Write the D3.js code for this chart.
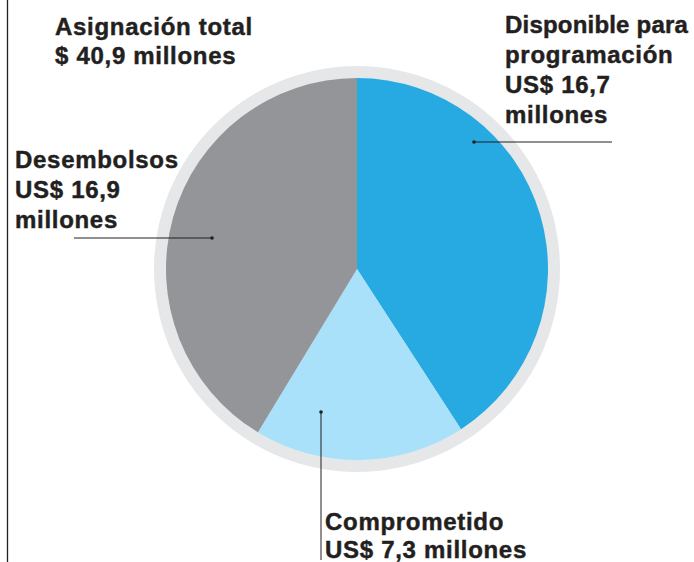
<!DOCTYPE html>
<html>
<head>
<meta charset="utf-8">
<script src="https://cdn.jsdelivr.net/npm/d3@7"></script>
<style>
  html, body { margin: 0; padding: 0; background: #ffffff; overflow: hidden; }
  svg { display: block; }
  text { font-family: "Liberation Sans", Arial, Helvetica, sans-serif; font-weight: bold; fill: #231f20; stroke: #231f20; stroke-width: 0.45px; letter-spacing: 0.7px; }
</style>
</head>
<body>
<script>
// Allocation breakdown, US$ millions
const categories = ["Disponible para programación", "Comprometido", "Desembolsos"];
const values = [16.7, 7.3, 16.9];
const colors = ["#27aae1", "#a8e1f9", "#939598"];
const totalLabel = ["Asignación total", "$ 40,9 millones"];
const sliceLabels = [
  ["Disponible para", "programación", "US$ 16,7", "millones"],
  ["Comprometido", "US$ 7,3 millones"],
  ["Desembolsos", "US$ 16,9", "millones"]
];

const W = 694, H = 562;
const cx = 357, cy = 269, r = 191, ringR = 203;

const svg = d3.select("body").append("svg").attr("width", W).attr("height", H);

// thin rule along the left edge
svg.append("line").attr("x1", 7.5).attr("x2", 7.5).attr("y1", 0).attr("y2", H)
  .attr("stroke", "#231f20").attr("stroke-width", 1.3);

const g = svg.append("g").attr("transform", `translate(${cx},${cy})`);

// light outer ring
g.append("circle").attr("r", ringR).attr("fill", "#e6e7e8");

const pie = d3.pie().sort(null).value(d => d);
const arcs = pie(values);
const arc = d3.arc().innerRadius(0).outerRadius(r);

g.selectAll("path.slice").data(arcs).join("path")
  .attr("class", "slice")
  .attr("d", arc)
  .attr("fill", (d, i) => colors[i]);

// leader lines: anchor point inside slice -> label
const leaders = [
  { a: [474, 142], b: [612, 142] },
  { a: [321, 412], b: [321, 560] },
  { a: [212, 238], b: [74, 238] }
];
leaders.forEach(l => {
  svg.append("line").attr("x1", l.a[0]).attr("y1", l.a[1]).attr("x2", l.b[0]).attr("y2", l.b[1])
    .attr("stroke", "#231f20").attr("stroke-width", 1);
  svg.append("circle").attr("cx", l.a[0]).attr("cy", l.a[1]).attr("r", 1.8).attr("fill", "#231f20");
});

function block(lines, x, y0, dy) {
  const t = svg.append("text").attr("font-size", 24);
  lines.forEach((s, i) => t.append("tspan").attr("x", x).attr("y", y0 + i * dy).text(s));
  return t;
}

block(totalLabel, 55, 35, 29);
// the first line of this block sits against the right edge, so it is set a touch tighter
block(sliceLabels[0], 505, 33, 30).select("tspan").style("letter-spacing", "0.2px");
block(sliceLabels[1], 325, 530, 28);
block(sliceLabels[2], 15, 168, 30);
</script>
</body>
</html>
